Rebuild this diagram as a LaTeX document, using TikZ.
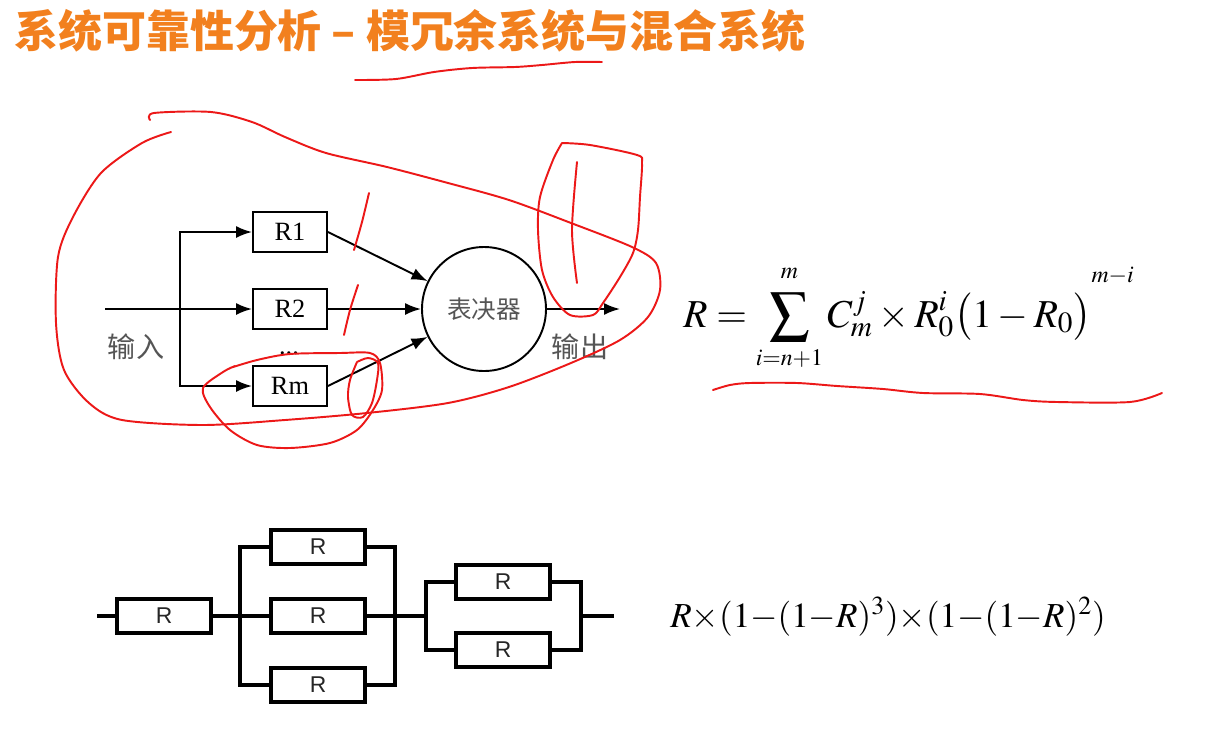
\documentclass[tikz,border=0pt]{standalone}
\usepackage{mathptmx}
\usepackage{fontspec}
\setmainfont{Liberation Serif}
\newfontfamily\cjk{Noto Sans CJK SC}
\newfontfamily\sansR{Liberation Sans}
\usetikzlibrary{shapes, arrows, arrows.meta, positioning}
\definecolor{titleorange}{RGB}{242,128,30}
\definecolor{penred}{RGB}{236,24,24}
\definecolor{labelgray}{RGB}{85,85,85}

\begin{document}
\begin{tikzpicture}[x=0.2mm, y=-0.2mm, >={Latex[length=3.2mm,width=2.4mm]}]
    \tikzstyle{unit} = [rectangle, draw, line width=1.1pt, minimum width=14.8mm, minimum height=8mm, inner sep=0pt, font=\fontsize{15}{18}\selectfont]
    \tikzstyle{voter} = [circle, draw, line width=1.1pt, minimum size=24.8mm, inner sep=0pt, text=labelgray, font=\cjk\fontsize{14}{16}\selectfont]
    \tikzstyle{wire} = [line width=1.1pt]
    \tikzstyle{arrow} = [wire, ->]
    \tikzstyle{res} = [rectangle, draw, line width=2.3pt, minimum width=18.8mm, minimum height=6.8mm, inner sep=0pt, text=black!85, font=\sansR\fontsize{13}{15}\selectfont]
    \tikzstyle{bus} = [line width=2.3pt]
    \tikzstyle{pen} = [penred, line width=1.1pt, line cap=round, line join=round]
    \tikzstyle{iolabel} = [text=labelgray, font=\cjk\fontsize{16}{18}\selectfont]

    \useasboundingbox (0,0) rectangle (1206,741);
    \fill [white] (0,0) rectangle (1206,741);

    \node [anchor=base west, inner sep=0pt, text=titleorange, font=\cjk\bfseries\fontsize{25}{30}\selectfont] (title) at (14,47) {系统可靠性分析 – 模冗余系统与混合系统};

    \node [unit] (r1) at (290,232) {R1};
    \node [unit, below of=r1, node distance=15.4mm] (r2) {R2};
    \node [unit, below of=r2, node distance=15.4mm] (rm) {Rm};
    \node [voter] (vote) at (484,309) {表决器};
    \node [anchor=base, inner sep=0pt, font=\fontsize{15}{18}\selectfont] (dots) at (289,354) {...};
    \coordinate (in) at (105,309);
    \coordinate (split) at (180,309);
    \coordinate (out) at (620,309);
    \node [iolabel] (inlabel) at (136,347) {输入};
    \node [iolabel] (outlabel) at (580,347) {输出};

    \draw [wire] (in) -- (split);
    \draw [arrow] (split) |- (r1);
    \draw [arrow] (split) -- (r2);
    \draw [arrow] (split) |- (rm);
    \draw [arrow] (r1.east) -- (vote);
    \draw [arrow] (r2) -- (vote);
    \draw [arrow] (rm.east) -- (vote);
    \draw [arrow] (vote) -- (out);

    \node [anchor=base west, inner sep=0pt, font=\fontsize{22.5}{27}\selectfont] (rule) at (683,327) {$R = \displaystyle\sum\limits_{\scriptscriptstyle i=n+1}^{\raisebox{0.15em}{$\scriptscriptstyle m$}} C_m^j \times R_0^i\bigl(1-R_0\bigr)^{\raisebox{0.55em}{$\scriptscriptstyle m-i$}}$};

    \node [res] (a) at (164,616) {R};
    \node [res] (b2) at (318,616) {R};
    \node [res, above of=b2, node distance=13.8mm] (b1) {R};
    \node [res, below of=b2, node distance=13.8mm] (b3) {R};
    \node [res] (c1) at (503,582) {R};
    \node [res, below of=c1, node distance=13.6mm] (c2) {R};
    \coordinate (left) at (97,616);
    \coordinate (right) at (614,616);
    \coordinate (j1) at (240,616);
    \coordinate (j2) at (395,616);
    \coordinate (j3) at (426,616);
    \coordinate (j4) at (581,616);

    \draw [bus] (left) -- (a);
    \draw [bus] (a) -- (j1);
    \draw [bus] (j1) |- (b1);
    \draw [bus] (j1) -- (b2);
    \draw [bus] (j1) |- (b3);
    \draw [bus] (b1) -| (j2);
    \draw [bus] (b2) -- (j2);
    \draw [bus] (b3) -| (j2);
    \draw [bus] (j2) -- (j3);
    \draw [bus] (j3) |- (c1);
    \draw [bus] (j3) |- (c2);
    \draw [bus] (c1) -| (j4);
    \draw [bus] (c2) -| (j4);
    \draw [bus] (j4) -- (right);

    \node [anchor=base west, inner sep=0pt, font=\fontsize{20}{24}\selectfont] (hybrid) at (670,627) {$\medmuskip=0mu R\times(1-(1-R)^3)\times(1-(1-R)^2)$};

    \draw [pen] plot [smooth] coordinates {(355,80) (396,79) (434,72) (472,68) (515,67) (542,65) (575,62) (602,62)};
    \draw [pen] plot [smooth] coordinates {(171,132) (142,143) (101,173) (73,217) (58,257) (56,323) (64,370) (89,403) (122,420) (203,425) (285,420) (367,413) (448,403) (509,387) (571,363) (620,340) (648,317) (660,290) (656,263) (632,247) (571,223) (509,200) (448,183) (387,167) (326,153) (285,137) (252,122) (211,112) (154,113) (150,120)};
    \draw [pen] plot [smooth] coordinates {(369,193) (362,222) (354,250)};
    \draw [pen] plot [smooth] coordinates {(358,285) (350,310) (344,335)};
    \draw [pen] plot [smooth] coordinates {(235,366) (223,372) (203,388) (210,407) (230,430) (257,445) (290,448) (330,443) (357,430) (373,410) (382,390) (380,363) (370,353) (340,353) (290,354) (257,360) (230,368)};
    \draw [pen] plot [smooth] coordinates {(357,362) (350,380) (348,397) (352,415) (363,417) (372,403) (377,380) (378,363) (368,358) (357,362)};
    \draw [pen] plot [smooth] coordinates {(562,143) (590,145) (637,155) (642,163) (640,197) (638,230) (633,253) (620,277) (603,303) (593,315) (570,315) (553,297) (542,270) (538,230) (540,197) (553,160) (562,143)};
    \draw [pen] plot [smooth] coordinates {(577,162) (572,230) (577,283)};
    \draw [pen] plot [smooth] coordinates {(713,390) (730,385) (750,383) (797,383) (837,386) (883,389) (923,393) (980,394) (1023,400) (1057,402) (1130,402) (1162,393)};
\end{tikzpicture}
\end{document}
